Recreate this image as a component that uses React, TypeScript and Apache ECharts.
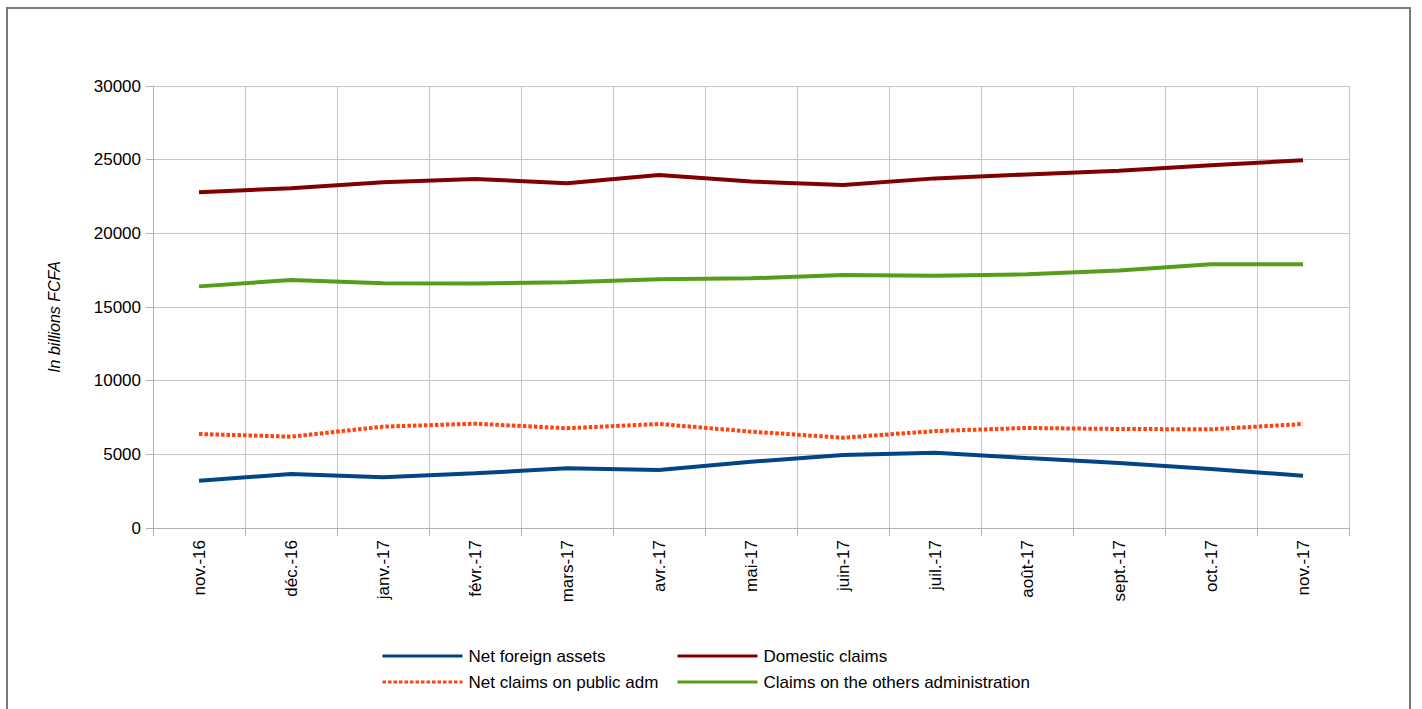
import React, { useEffect, useRef } from "react";
import * as echarts from "echarts";

const months = [
  "nov.-16", "déc.-16", "janv.-17", "févr.-17", "mars-17", "avr.-17", "mai-17",
  "juin-17", "juil.-17", "août-17", "sept.-17", "oct.-17", "nov.-17",
];

const netForeignAssets = [3210, 3670, 3440, 3710, 4050, 3940, 4500, 4950, 5110, 4750, 4410, 4000, 3550];
const domesticClaims = [22790, 23060, 23460, 23690, 23400, 23960, 23510, 23280, 23730, 24000, 24250, 24620, 24960];
const netClaimsPublicAdm = [6380, 6200, 6880, 7080, 6770, 7060, 6540, 6130, 6580, 6790, 6720, 6700, 7060];
const claimsOthersAdmin = [16400, 16830, 16610, 16590, 16680, 16880, 16950, 17170, 17120, 17220, 17470, 17900, 17900];

const yTicks = { min: 0, max: 30000, interval: 5000 };

const FONT = "'Liberation Sans', Arial, sans-serif";

export default function App() {
  const ref = useRef<HTMLDivElement>(null);

  useEffect(() => {
    if (!ref.current) return;
    const chart = echarts.init(ref.current, undefined, { renderer: "svg" });
    const gridColor = "#c6c6c6";
    const axisColor = "#b3b3b3";

    const legendBase = {
      top: 647,
      orient: "vertical",
      padding: 0,
      itemWidth: 80,
      itemHeight: 14,
      itemGap: 8,
      itemStyle: { opacity: 0 },
      lineStyle: { width: 3 },
      textStyle: { fontSize: 17, color: "#000", fontFamily: FONT, lineHeight: 18, padding: [0, 0, 0, 1] },
    };

    chart.setOption({
      animation: false,
      backgroundColor: "#ffffff",
      textStyle: { fontFamily: FONT },
      grid: { left: 153, top: 86, width: 1196, height: 442, containLabel: false },
      xAxis: {
        type: "category",
        data: months,
        boundaryGap: true,
        axisLine: { lineStyle: { color: axisColor, width: 1 } },
        axisTick: { show: true, length: 8, lineStyle: { color: axisColor } },
        splitLine: { show: true, lineStyle: { color: gridColor, width: 1 } },
        axisLabel: {
          rotate: 90,
          margin: 12,
          color: "#000",
          fontSize: 17,
          fontFamily: FONT,
          interval: 0,
        },
      },
      yAxis: {
        type: "value",
        min: yTicks.min,
        max: yTicks.max,
        interval: yTicks.interval,
        axisLine: { show: true, lineStyle: { color: axisColor, width: 1 } },
        axisTick: { show: true, length: 7, lineStyle: { color: axisColor } },
        splitLine: { show: true, lineStyle: { color: gridColor, width: 1 } },
        axisLabel: {
          margin: 12,
          color: "#000",
          fontSize: 17,
          fontFamily: FONT,
          formatter: (v: number) => String(v),
        },
      },
      legend: [
        { ...legendBase, left: 381, data: ["Net foreign assets", "Net claims on public adm"] },
        { ...legendBase, left: 676, data: ["Domestic claims", "Claims on the others administration"] },
      ],
      graphic: [
        {
          type: "rect",
          shape: { x: 7, y: 8, width: 1403, height: 760 },
          style: { fill: "none", stroke: "#7a7a7a", lineWidth: 2 },
          silent: true,
        },
        {
          type: "text",
          x: 54,
          y: 317,
          rotation: Math.PI / 2,
          style: {
            text: "In billions FCFA",
            fontSize: 16,
            fontStyle: "italic",
            fontFamily: FONT,
            fill: "#000",
            align: "center",
            verticalAlign: "middle",
          },
        },
      ],
      series: [
        {
          name: "Net foreign assets",
          type: "line",
          data: netForeignAssets,
          symbol: "none",
          color: "#004586",
          lineStyle: { color: "#004586", width: 4 },
        },
        {
          name: "Domestic claims",
          type: "line",
          data: domesticClaims,
          symbol: "none",
          color: "#800000",
          lineStyle: { color: "#800000", width: 4 },
        },
        {
          name: "Net claims on public adm",
          type: "line",
          data: netClaimsPublicAdm,
          symbol: "none",
          color: "#ff420e",
          lineStyle: { color: "#ff420e", width: 4, type: [3.5, 2] },
        },
        {
          name: "Claims on the others administration",
          type: "line",
          data: claimsOthersAdmin,
          symbol: "none",
          color: "#579d1c",
          lineStyle: { color: "#579d1c", width: 4 },
        },
      ],
    });

    return () => chart.dispose();
  }, []);

  return (
    <div style={{ position: "fixed", left: 0, top: 0, width: 1422, height: 709, background: "#fff" }}>
      <div ref={ref} style={{ width: 1422, height: 709 }} />
    </div>
  );
}
